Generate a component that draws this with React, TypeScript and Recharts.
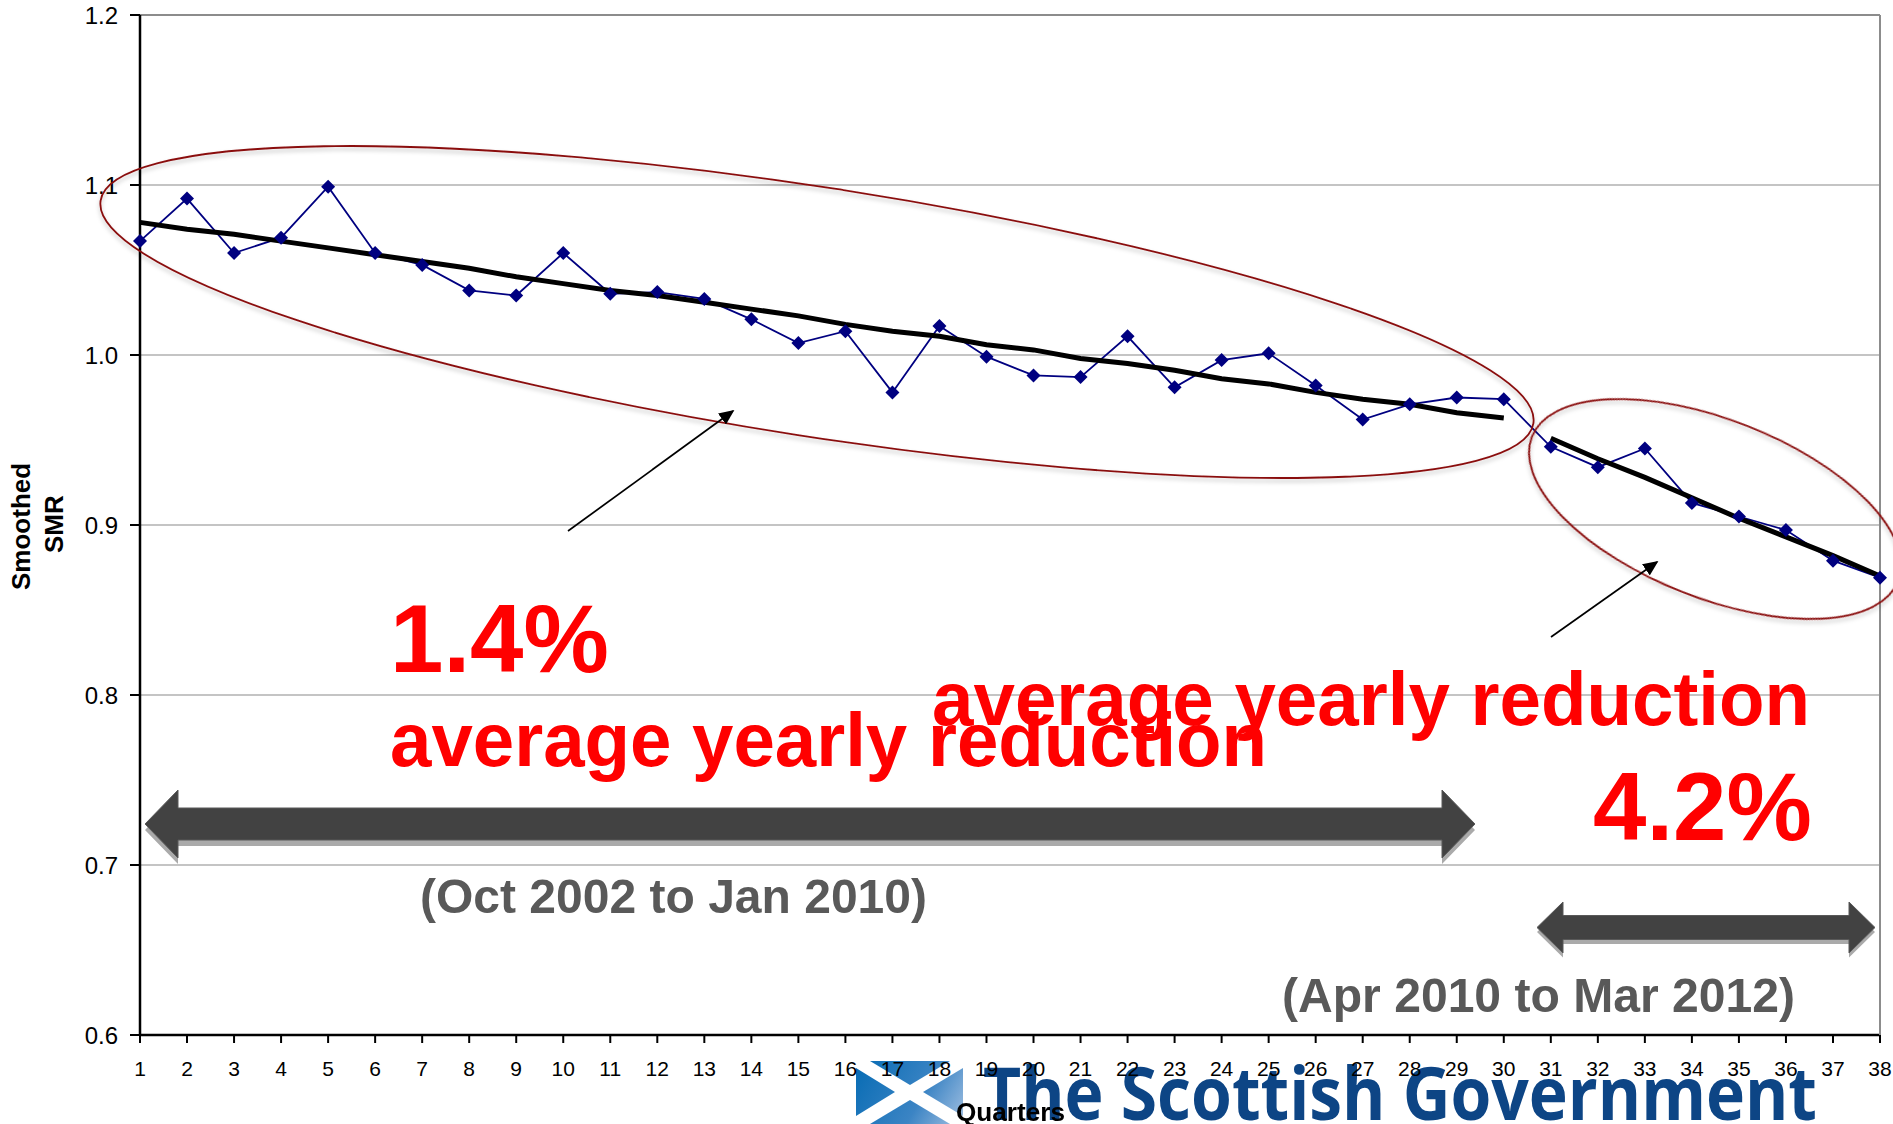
import { CartesianGrid, Line, LineChart, ReferenceLine, XAxis, YAxis } from 'recharts';

const W = 1893;
const H = 1124;

const quarters = [
  1, 2, 3, 4, 5, 6, 7, 8, 9, 10, 11, 12, 13, 14, 15, 16, 17, 18, 19,
  20, 21, 22, 23, 24, 25, 26, 27, 28, 29, 30, 31, 32, 33, 34, 35, 36, 37, 38,
];

const smoothedSmr = [
  1.067, 1.092, 1.06, 1.069, 1.099, 1.06, 1.053, 1.038, 1.035, 1.06,
  1.036, 1.037, 1.033, 1.021, 1.007, 1.014, 0.978, 1.017, 0.999, 0.988,
  0.987, 1.011, 0.981, 0.997, 1.001, 0.982, 0.962, 0.971, 0.975, 0.974,
  0.946, 0.934, 0.945, 0.913, 0.905, 0.897, 0.879, 0.869,
];

// trend over quarters 1-30
const trendEarly = [
  1.078, 1.074, 1.071, 1.067, 1.063, 1.059, 1.055, 1.051, 1.046, 1.042,
  1.038, 1.035, 1.031, 1.027, 1.023, 1.018, 1.014, 1.011, 1.006, 1.003,
  0.998, 0.995, 0.991, 0.986, 0.983, 0.978, 0.974, 0.971, 0.966, 0.963,
];

// trend over quarters 31-38
const trendLate = [0.951, 0.939, 0.928, 0.916, 0.904, 0.893, 0.882, 0.87];

const yTicks = [0.6, 0.7, 0.8, 0.9, 1.0, 1.1, 1.2];

const rows = quarters.map((quarter, i) => ({
  quarter,
  smr: smoothedSmr[i],
  early: trendEarly[i] ?? null,
  late: i >= 30 ? trendLate[i - 30] : null,
}));

const ARIAL = '"Liberation Sans", Arial, sans-serif';

// block arrow with a head at both ends, centred on cy
const doubleArrow = (x0: number, x1: number, cy: number, head: number, halfHead: number, halfShaft: number) =>
  [
    [x0, cy],
    [x0 + head, cy - halfHead],
    [x0 + head, cy - halfShaft],
    [x1 - head, cy - halfShaft],
    [x1 - head, cy - halfHead],
    [x1, cy],
    [x1 - head, cy + halfHead],
    [x1 - head, cy + halfShaft],
    [x0 + head, cy + halfShaft],
    [x0 + head, cy + halfHead],
  ]
    .map((p) => p.join(','))
    .join(' ');

const Logo = () => (
  <svg width={W} height={H} style={{ position: 'absolute', left: 0, top: 0 }}>
    <defs>
      <linearGradient id="saltire" gradientUnits="userSpaceOnUse" x1={860} y1={1065} x2={960} y2={1124}>
        <stop offset="0" stopColor="#0a6db5" />
        <stop offset="0.6" stopColor="#3b84c4" />
        <stop offset="1" stopColor="#9dbde0" />
      </linearGradient>
    </defs>
    <g fill="url(#saltire)">
      <polygon points="870,1061 950,1061 910,1085" />
      <polygon points="856,1068 856,1116 895,1092" />
      <polygon points="963,1068 963,1116 923,1092" />
      <polygon points="870,1124 950,1124 910,1100" />
    </g>
    <text
      x={983}
      y={1120}
      fontFamily='"Open Sans", sans-serif'
      fontSize={73}
      fontWeight={700}
      fill="#0d4585"
      textLength={834}
      lengthAdjust="spacingAndGlyphs"
    >
      The Scottish Government
    </text>
  </svg>
);

const Notes = () => (
  <svg width={W} height={H} style={{ position: 'absolute', left: 0, top: 0 }}>
    <defs>
      <filter id="soft" x="-10%" y="-20%" width="120%" height="140%">
        <feDropShadow dx="0" dy="3" stdDeviation="2" floodColor="#000" floodOpacity="0.25" />
      </filter>
      <marker id="tip" markerWidth="9" markerHeight="8" refX="8" refY="4" orient="auto" markerUnits="strokeWidth">
        <path d="M0 0 L9 4 L0 8 Z" fill="#000" />
      </marker>
    </defs>

    <g fill="none" stroke="#8a0f0f" strokeWidth={1.8} filter="url(#soft)">
      <ellipse cx={817} cy={312} rx={725} ry={124.5} transform="rotate(8.84 817 312)" />
      <ellipse cx={1715} cy={509} rx={196.8} ry={89.2} transform="rotate(21.5 1715 509)" />
    </g>

    <line x1={568} y1={531} x2={733} y2={411} stroke="#000" strokeWidth={1.7} markerEnd="url(#tip)" />
    <line x1={1551} y1={637} x2={1657} y2={562} stroke="#000" strokeWidth={1.7} markerEnd="url(#tip)" />

    <polygon points={doubleArrow(145, 1475, 830, 33, 34, 16)} fill="#aaa" />
    <polygon points={doubleArrow(145, 1475, 824, 33, 34, 16)} fill="#424242" stroke="#595959" strokeWidth={1} />
    <polygon points={doubleArrow(1537, 1875, 932, 26, 25.5, 12)} fill="#aaa" />
    <polygon points={doubleArrow(1537, 1875, 927.5, 26, 25.5, 12)} fill="#424242" stroke="#595959" strokeWidth={1} />

    <g fontFamily={ARIAL} fontWeight={700} fill="#ff0000">
      <text x={390} y={672} fontSize={96}>1.4%</text>
      <text x={390} y={766} fontSize={76} textLength={877} lengthAdjust="spacingAndGlyphs">average yearly reduction</text>
      <text x={932} y={725} fontSize={76} textLength={878} lengthAdjust="spacingAndGlyphs">average yearly reduction</text>
      <text x={1593} y={840} fontSize={96}>4.2%</text>
    </g>
    <g fontFamily={ARIAL} fontWeight={700} fill="#595959" fontSize={48}>
      <text x={420} y={913} textLength={507} lengthAdjust="spacingAndGlyphs">(Oct 2002 to Jan 2010)</text>
      <text x={1282} y={1012} textLength={513} lengthAdjust="spacingAndGlyphs">(Apr 2010 to Mar 2012)</text>
    </g>

    <g fontFamily={ARIAL} fontWeight={700} fill="#000">
      <text x={956} y={1121} fontSize={26} textLength={109} lengthAdjust="spacingAndGlyphs">Quarters</text>
      <text transform="translate(30 590) rotate(-90)" fontSize={26}>Smoothed</text>
      <text transform="translate(63 553) rotate(-90)" fontSize={26}>SMR</text>
    </g>
  </svg>
);

const Diamond = (props: { cx?: number; cy?: number }) => {
  const { cx = 0, cy = 0 } = props;
  return <path d={`M${cx} ${cy - 7} L${cx + 7} ${cy} L${cx} ${cy + 7} L${cx - 7} ${cy} Z`} fill="#000080" />;
};

export default function App() {
  return (
    <div style={{ position: 'absolute', left: 0, top: 0, width: W, height: H, background: '#fff', overflow: 'hidden' }}>
      <Logo />
      <div style={{ position: 'absolute', left: 0, top: 0 }}>
        <LineChart
          width={W}
          height={H}
          data={rows}
          margin={{ top: 15, right: 0, bottom: 0, left: 0 }}
        >
          <CartesianGrid vertical={false} stroke="#c4c4c4" strokeWidth={2} />
          <ReferenceLine y={1.2} stroke="#8c8c8c" strokeWidth={2} />
          <XAxis
            dataKey="quarter"
            type="number"
            domain={[1, 38]}
            ticks={quarters}
            interval={0}
            height={89}
            tickSize={8}
            tickMargin={18}
            tick={{ fill: '#000', fontSize: 21, fontFamily: ARIAL }}
            axisLine={{ stroke: '#000', strokeWidth: 2.5 }}
            tickLine={{ stroke: '#000', strokeWidth: 2 }}
          />
          <YAxis
            type="number"
            domain={[0.6, 1.2]}
            ticks={yTicks}
            width={140}
            tickSize={10}
            tickMargin={12}
            tickFormatter={(v: number) => v.toFixed(1)}
            tick={{ fill: '#000', fontSize: 24, fontFamily: ARIAL }}
            axisLine={{ stroke: '#000', strokeWidth: 2.5 }}
            tickLine={{ stroke: '#000', strokeWidth: 2 }}
          />
          <YAxis
            yAxisId="frame"
            orientation="right"
            width={13}
            domain={[0.6, 1.2]}
            tick={false}
            tickLine={false}
            axisLine={{ stroke: '#8c8c8c', strokeWidth: 2 }}
          />
          <Line
            dataKey="smr"
            stroke="#000080"
            strokeWidth={1.8}
            dot={<Diamond />}
            activeDot={false}
            isAnimationActive={false}
          />
          <Line dataKey="early" stroke="#000" strokeWidth={5} dot={false} activeDot={false} connectNulls={false} isAnimationActive={false} />
          <Line dataKey="late" stroke="#000" strokeWidth={5} dot={false} activeDot={false} connectNulls={false} isAnimationActive={false} />
        </LineChart>
      </div>
      <Notes />
    </div>
  );
}
